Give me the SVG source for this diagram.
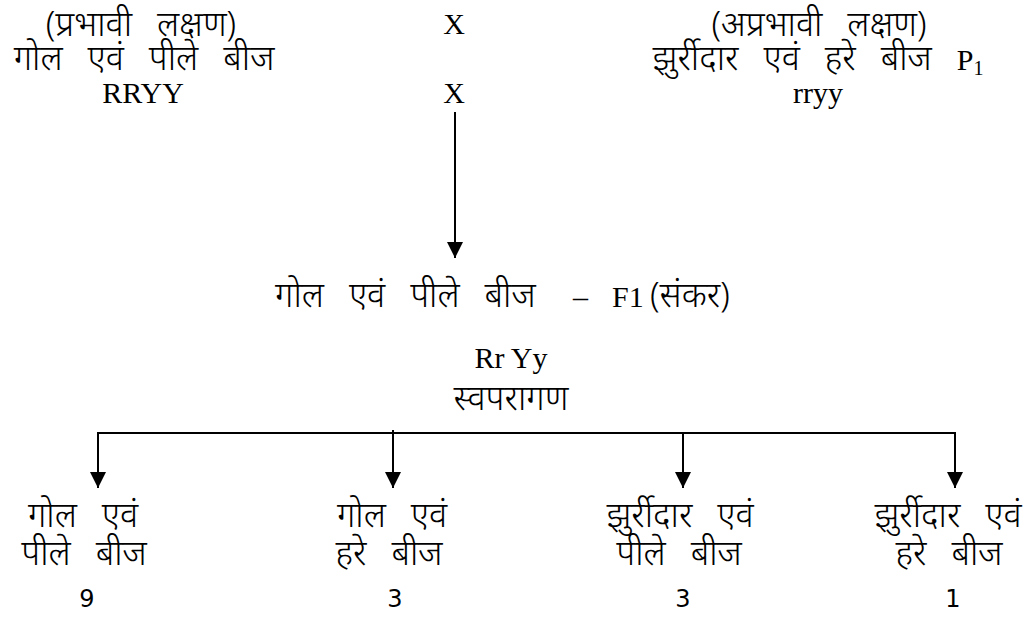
<svg xmlns="http://www.w3.org/2000/svg" width="1035" height="617" viewBox="0 0 1035 617">
<style>
.d{font-family:"Noto Sans","Noto Sans Devanagari","Lohit Devanagari",sans-serif;font-size:34.5px;font-weight:300;fill:#000;word-spacing:16px}
.r{font-family:"Liberation Serif",serif;font-size:30px;font-weight:400;fill:#000;word-spacing:0}
.n{font-family:"DejaVu Sans",sans-serif;font-size:24px;fill:#000}
.l{stroke:#000;stroke-width:2;fill:none}
</style>
<defs><marker id="a" viewBox="0 0 16 16" refX="16" refY="8" markerWidth="16" markerHeight="16" markerUnits="userSpaceOnUse" orient="auto"><path d="M0,0 L16,8 L0,16 Z" fill="#000"/></marker></defs>
<g id="parent1">
<text class="d" x="141" y="36" text-anchor="middle">(प्रभावी लक्षण)</text>
<text class="d" x="144" y="70" text-anchor="middle">गोल एवं पीले बीज</text>
<text class="r" x="143" y="103" text-anchor="middle">RRYY</text>
</g>
<g id="cross">
<text class="r" x="454" y="34" text-anchor="middle">X</text>
<text class="r" x="454" y="103" text-anchor="middle">X</text>
</g>
<g id="parent2">
<text class="d" x="819" y="36" text-anchor="middle">(अप्रभावी लक्षण)</text>
<text class="d" x="818" y="70" text-anchor="middle">झुर्रीदार एवं हरे बीज <tspan class="r">P<tspan font-size="20" dy="5">1</tspan></tspan></text>
<text class="r" x="818" y="103" text-anchor="middle">rryy</text>
</g>
<g id="f1">
<text class="d" x="275" y="307" word-spacing="21">गोल एवं पीले बीज<tspan class="r" x="573">–</tspan><tspan class="r" x="612">F1</tspan><tspan x="650">(संकर)</tspan></text>
<text class="r" x="511" y="368" text-anchor="middle">Rr Yy</text>
<text class="d" x="511" y="410" text-anchor="middle">स्वपरागण</text>
</g>
<g id="o1">
<text class="d" x="83" y="527" text-anchor="middle">गोल एवं</text>
<text class="d" x="84" y="565" text-anchor="middle">पीले बीज</text>
<text class="n" x="87" y="607" text-anchor="middle">9</text>
</g>
<g id="o2">
<text class="d" x="392" y="527" text-anchor="middle">गोल एवं</text>
<text class="d" x="389" y="565" text-anchor="middle">हरे बीज</text>
<text class="n" x="395" y="607" text-anchor="middle">3</text>
</g>
<g id="o3">
<text class="d" x="680" y="527" text-anchor="middle">झुर्रीदार एवं</text>
<text class="d" x="679" y="565" text-anchor="middle">पीले बीज</text>
<text class="n" x="683" y="607" text-anchor="middle">3</text>
</g>
<g id="o4">
<text class="d" x="948" y="527" text-anchor="middle">झुर्रीदार एवं</text>
<text class="d" x="949" y="565" text-anchor="middle">हरे बीज</text>
<text class="n" x="953" y="607" text-anchor="middle">1</text>
</g>
<g id="connectors">
<line class="l" x1="455" y1="112" x2="455" y2="258" marker-end="url(#a)"/>
<polyline class="l" points="98,450 98,433 955,433 955,450"/>
<line class="l" x1="98" y1="433" x2="98" y2="488" marker-end="url(#a)"/>
<line class="l" x1="393" y1="430" x2="393" y2="488" marker-end="url(#a)"/>
<line class="l" x1="683" y1="433" x2="683" y2="488" marker-end="url(#a)"/>
<line class="l" x1="955" y1="433" x2="955" y2="488" marker-end="url(#a)"/>
</g>
</svg>
